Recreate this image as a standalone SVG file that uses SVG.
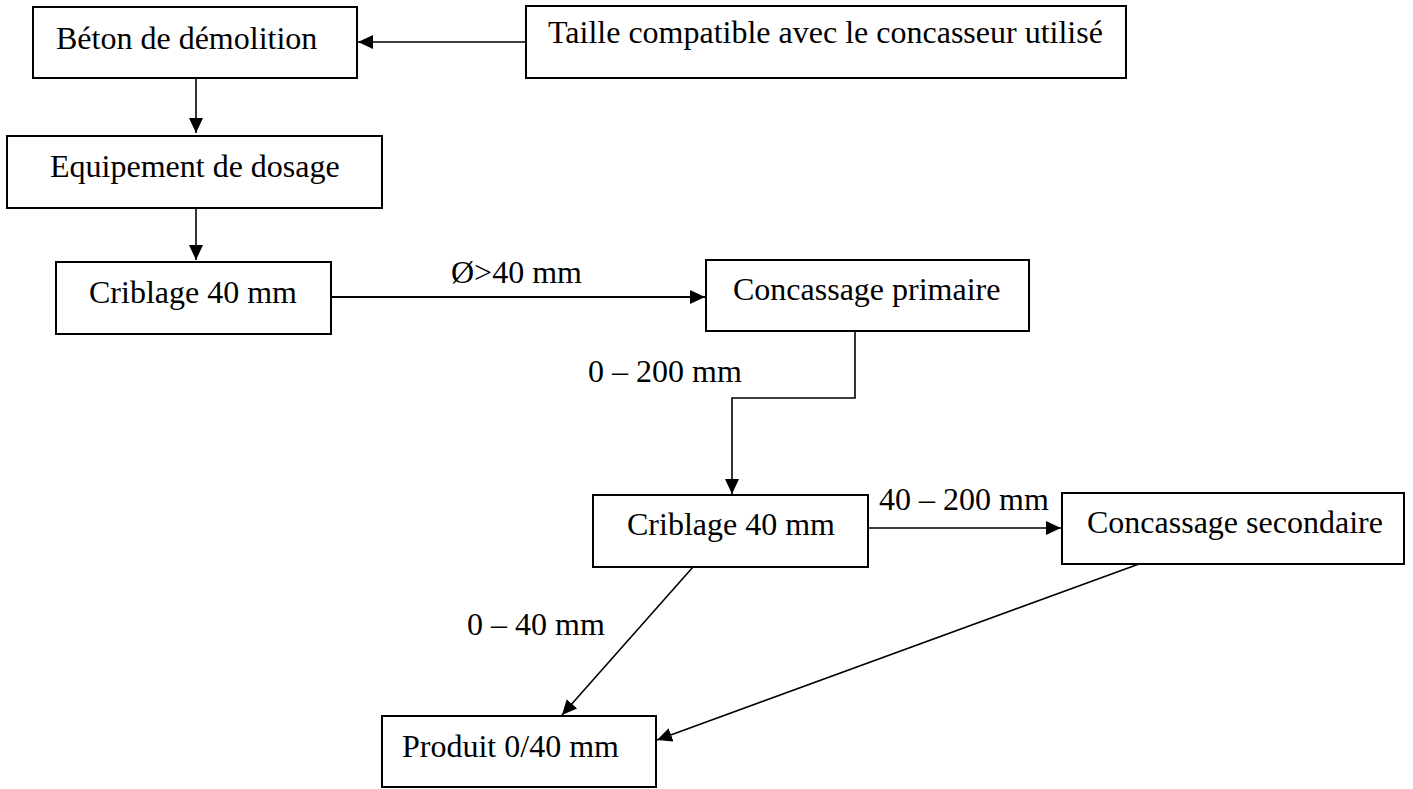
<svg xmlns="http://www.w3.org/2000/svg" width="1413" height="789" viewBox="0 0 1413 789">
  <defs>
    <marker id="arrow" markerUnits="userSpaceOnUse" markerWidth="16" markerHeight="14" refX="15" refY="7" orient="auto">
      <path d="M0,0 L15,7 L0,14 Z" fill="#000"/>
    </marker>
    <style>
      rect.box { fill: #fff; stroke: #000; stroke-width: 2; }
      text { font-family: "Liberation Serif", "Times New Roman", serif; font-size: 32px; fill: #000; }
      .link { fill: none; stroke: #000; stroke-width: 1.6; }
      .arrow { marker-end: url(#arrow); }
    </style>
  </defs>
  <rect width="1413" height="789" fill="#fff"/>

  <!-- connectors -->
  <g id="connectors">
    <line class="link arrow" x1="526" y1="42" x2="358" y2="42"/>
    <line class="link arrow" x1="196" y1="78" x2="196" y2="133"/>
    <line class="link arrow" x1="196" y1="208" x2="196" y2="260"/>
    <line class="link arrow" x1="331" y1="297" x2="705" y2="297" style="stroke-width:2.2"/>
    <polyline class="link arrow" points="855,331 855,398 732,398 732,494"/>
    <line class="link arrow" x1="868" y1="528" x2="1061" y2="528"/>
    <line class="link arrow" x1="693" y1="567" x2="562" y2="715"/>
    <line class="link arrow" x1="1139" y1="564" x2="657" y2="740"/>
  </g>

  <!-- connector labels -->
  <g id="labels">
    <text x="451" y="283">Ø&gt;40 mm</text>
    <text x="588" y="382">0 – 200 mm</text>
    <text x="879" y="510">40 – 200 mm</text>
    <text x="467" y="635">0 – 40 mm</text>
  </g>

  <g id="beton">
    <rect class="box" x="33" y="7" width="324" height="71"/>
    <text x="56" y="49">Béton de démolition</text>
  </g>
  <g id="taille">
    <rect class="box" x="526" y="6" width="600" height="72"/>
    <text x="548" y="43">Taille compatible avec le concasseur utilisé</text>
  </g>
  <g id="dosage">
    <rect class="box" x="7" y="136" width="375" height="72"/>
    <text x="50" y="177">Equipement de dosage</text>
  </g>
  <g id="criblage1">
    <rect class="box" x="56" y="262" width="275" height="72"/>
    <text x="89" y="303">Criblage 40 mm</text>
  </g>
  <g id="primaire">
    <rect class="box" x="706" y="260" width="323" height="71"/>
    <text x="733" y="300">Concassage primaire</text>
  </g>
  <g id="criblage2">
    <rect class="box" x="593" y="495" width="275" height="72"/>
    <text x="627" y="535">Criblage 40 mm</text>
  </g>
  <g id="secondaire">
    <rect class="box" x="1062" y="493" width="342" height="71"/>
    <text x="1087" y="533">Concassage secondaire</text>
  </g>
  <g id="produit">
    <rect class="box" x="382" y="716" width="274" height="71"/>
    <text x="402" y="757">Produit 0/40 mm</text>
  </g>
</svg>
